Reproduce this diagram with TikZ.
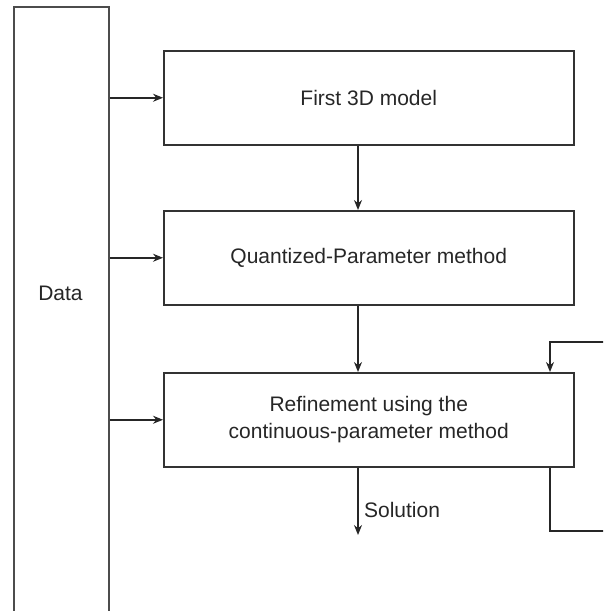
\documentclass[tikz,border=0pt]{standalone}
\usepackage{fontspec}
\setmainfont{Liberation Sans}
\usetikzlibrary{arrows.meta}
\begin{document}
\begin{tikzpicture}[x=1pt,y=-1pt,
  every node/.style={font=\fontsize{21}{27}\selectfont, text=black!85},
  box/.style={draw=black!80, line width=1.5pt, minimum width=410pt, minimum height=94pt, anchor=north west, align=center},
  conn/.style={draw=black!85, line width=1.5pt},
  arr/.style={conn, -{Stealth[length=10pt,width=8pt]}}]
\useasboundingbox (0,0) rectangle (603,611);
\clip (0,0) rectangle (603,611);
\node[draw=black!70, line width=1.5pt, minimum width=95pt, minimum height=660pt, anchor=north west] (data) at (13,6) {};
\node (datalabel) at (60.5,293) {Data};
\node[box] (b1) at (163,50) {First 3D model};
\node[box] (b2) at (163,210) {Quantized-Parameter method};
\node[box] (b3) at (163,372) {Refinement using the\\continuous-parameter method};
\coordinate (c1) at (358,0);
\coordinate (fb) at (550,0);
\coordinate (fbtop) at (620,342);
\coordinate (fbbot) at (620,531);
\coordinate (sol) at (358,535);
\draw[arr] (b1.west -| data.east) -- (b1.west);
\draw[arr] (b2.west -| data.east) -- (b2.west);
\draw[arr] (b3.west -| data.east) -- (b3.west);
\draw[arr] (b1.south -| c1) -- (b2.north -| c1);
\draw[arr] (b2.south -| c1) -- (b3.north -| c1);
\draw[arr] (b3.south -| c1) -- node[right, xshift=2pt, yshift=-9pt] (sollabel) {Solution} (sol);
\draw[conn] (b3.south -| fb) |- (fbbot);
\draw[arr] (fbtop) -| (b3.north -| fb);
\end{tikzpicture}
\end{document}
